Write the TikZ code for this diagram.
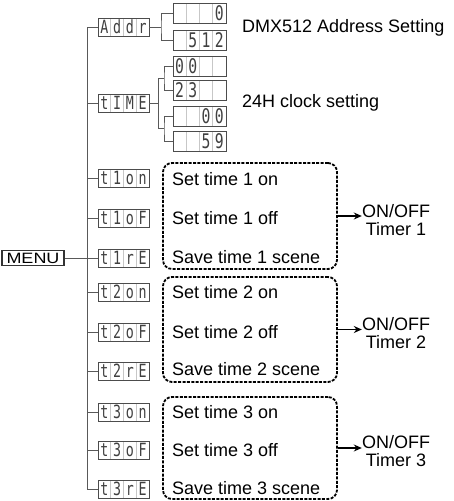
\documentclass[tikz,border=0pt]{standalone}
\usepackage{graphicx}
\usepackage{fontspec}
\setmainfont{Liberation Sans}
\newfontfamily\segfont{DejaVu Sans Mono}
\usetikzlibrary{calc,arrows.meta}
\newlength\lcdcw
\newcommand{\lcdcell}[1]{\makebox[\lcdcw][c]{\scalebox{0.95}[1.3]{#1}}}
\newcommand{\lcdtext}[4]{\lcdcell{#1}\lcdcell{#2}\lcdcell{#3}\lcdcell{#4}}
\tikzset{
  lcdbase/.style={draw=black!70, line width=0.9pt, inner sep=0pt, text=black!75,
    path picture={\foreach \k in {1,2,3}{\draw[black!22, line width=0.6pt]
      ($(path picture bounding box.south west)!\k/4!(path picture bounding box.south east)$) --
      ($(path picture bounding box.north west)!\k/4!(path picture bounding box.north east)$);}}},
  lcdmenu/.style={lcdbase, minimum width=51pt, minimum height=18pt,
    font={\setlength\lcdcw{12.75pt}\segfont\fontsize{14}{14}\selectfont}},
  lcdval/.style={lcdbase, minimum width=53pt, minimum height=20pt,
    font={\setlength\lcdcw{13.25pt}\segfont\fontsize{15.5}{15.5}\selectfont}},
  tree/.style={draw=black!65, line width=0.9pt},
  dbox/.style={draw=black, line width=1.8pt, dash pattern=on 3pt off 1.4pt, rounded corners=9pt, minimum width=174pt},
  lbl/.style={anchor=west, inner sep=0pt, font=\fontsize{18}{18}\selectfont},
  tmr/.style={align=center, inner sep=0pt, font=\fontsize{18}{17.5}\selectfont},
  arr/.style={draw=black, line width=1.6pt, -{Stealth[length=8pt,width=7pt]}}
}
\begin{document}
\begin{tikzpicture}[x=1pt,y=-1pt]
\useasboundingbox (0,0) rectangle (453,501);
% MENU
\node[draw=black!80, line width=1.2pt, minimum width=62pt, minimum height=15pt, inner sep=0pt,
  font=\fontsize{15}{15}\selectfont] (menu) at (33,258) {\scalebox{1.2}[1]{MENU}};
% display column
\node[lcdmenu] (addr) at (123.5,27) {\lcdtext{A}{d}{d}{r}};
\node[lcdmenu] (time) at (123.5,103) {\lcdtext{t}{I}{M}{E}};
\node[lcdmenu] (t1on) at (123.5,178) {\lcdtext{t}{1}{o}{n}};
\node[lcdmenu] (t1of) at (123.5,218) {\lcdtext{t}{1}{o}{F}};
\node[lcdmenu] (t1re) at (123.5,258) {\lcdtext{t}{1}{r}{E}};
\node[lcdmenu] (t2on) at (123.5,292) {\lcdtext{t}{2}{o}{n}};
\node[lcdmenu] (t2of) at (123.5,332) {\lcdtext{t}{2}{o}{F}};
\node[lcdmenu] (t2re) at (123.5,371) {\lcdtext{t}{2}{r}{E}};
\node[lcdmenu] (t3on) at (123.5,412) {\lcdtext{t}{3}{o}{n}};
\node[lcdmenu] (t3of) at (123.5,450) {\lcdtext{t}{3}{o}{F}};
\node[lcdmenu] (t3re) at (123.5,489) {\lcdtext{t}{3}{r}{E}};
% value boxes
\node[lcdval] (v0) at (199.5,13) {\lcdtext{}{}{}{0}};
\node[lcdval] (v512) at (199.5,40) {\lcdtext{}{5}{1}{2}};
\node[lcdval] (h00) at (199.5,66) {\lcdtext{0}{0}{}{}};
\node[lcdval] (h23) at (199.5,90) {\lcdtext{2}{3}{}{}};
\node[lcdval] (m00) at (199.5,116) {\lcdtext{}{}{0}{0}};
\node[lcdval] (m59) at (199.5,141) {\lcdtext{}{}{5}{9}};
% trunk
\coordinate (trtop) at (87,27);
\coordinate (trbot) at (87,489);
\draw[tree] (trtop) -- (trbot);
\foreach \d in {addr,time,t1on,t1of,t1re,t2on,t2of,t2re,t3on,t3of,t3re}
  \draw[tree] (\d.west -| trtop) -- (\d.west);
\draw[tree] (menu.east) -- (menu.east -| trtop);
% Addr tree
\coordinate (ja) at (161,27);
\draw[tree] (addr.east) -- (ja);
\draw[tree] (v0.west) -| (ja) |- (v512.west);
% tIME tree
\coordinate (jt) at (158,103);
\coordinate (jh) at (164,78);
\coordinate (jm) at (164,128.5);
\draw[tree] (time.east) -- (jt);
\draw[tree] (jh -| jt) -- (jm -| jt);
\draw[tree] (jh -| jt) -- (jh);
\draw[tree] (jm -| jt) -- (jm);
\draw[tree] (h00.west) -| (jh) |- (h23.west);
\draw[tree] (m00.west) -| (jm) |- (m59.west);
% side texts
\node[lbl] (dmx) at (242,28) {DMX512 Address Setting};
\node[lbl] (clk) at (242,103) {24H clock setting};
% dashed groups
\node[dbox, minimum height=106pt] (b1) at (250,216) {};
\node[dbox, minimum height=105pt] (b2) at (250,329.5) {};
\node[dbox, minimum height=102pt] (b3) at (250,448) {};
\node[lbl] (s1a) at (172,179) {Set time 1 on};
\node[lbl] (s1b) at (172,218) {Set time 1 off};
\node[lbl] (s1c) at (172,257) {Save time 1 scene};
\node[lbl] (s2a) at (172,292) {Set time 2 on};
\node[lbl] (s2b) at (172,332) {Set time 2 off};
\node[lbl] (s2c) at (172,369) {Save time 2 scene};
\node[lbl] (s3a) at (172,412) {Set time 3 on};
\node[lbl] (s3b) at (172,450) {Set time 3 off};
\node[lbl] (s3c) at (172,488) {Save time 3 scene};
% timers
\node[tmr] (tm1) at (396,220) {ON/OFF\\Timer 1};
\node[tmr] (tm2) at (396,333) {ON/OFF\\Timer 2};
\node[tmr] (tm3) at (396,451) {ON/OFF\\Timer 3};
\draw[arr] (b1.east) -- (b1.east -| tm1.west);
\draw[arr] (b2.east) -- (b2.east -| tm2.west);
\draw[arr] (b3.east) -- (b3.east -| tm3.west);
\end{tikzpicture}
\end{document}
